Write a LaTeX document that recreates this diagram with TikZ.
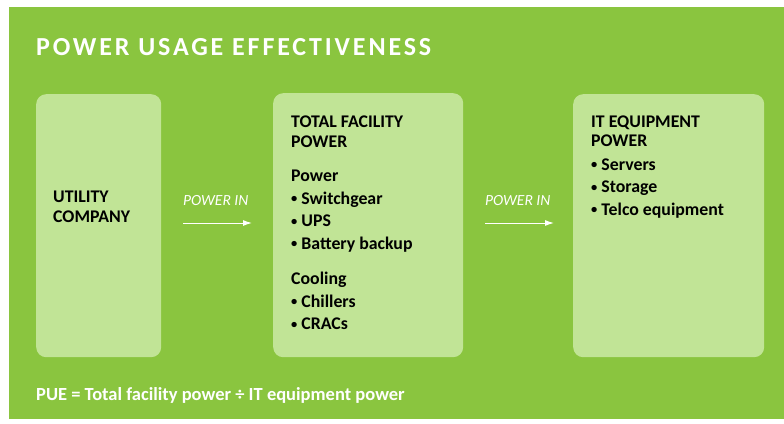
\documentclass[tikz,border=0pt]{standalone}
\usepackage{fontspec}
\setmainfont{Carlito}
\newfontfamily\titlefont[LetterSpace=11]{Carlito}
\usetikzlibrary{positioning,arrows.meta}
\definecolor{pueGreen}{RGB}{138,197,63}
\definecolor{pueLight}{RGB}{193,228,150}
\tikzset{
  panel/.style     = {fill=pueLight, rounded corners=10pt, inner sep=0pt,
                      anchor=north west},
  boxtext/.style   = {anchor=north west, align=left, inner sep=0pt, text=black,
                      font=\bfseries\fontsize{17.8}{22.5}\selectfont},
  flowlabel/.style = {anchor=base west, inner sep=0pt, text=white,
                      font=\itshape\fontsize{15.5}{18}\selectfont},
  flow/.style      = {draw=white, line width=1pt, -{Latex[length=9pt,width=6pt]}},
  heading/.style   = {anchor=base west, inner sep=0pt, text=white,
                      font=\titlefont\bfseries\fontsize{26}{30}\selectfont},
  formula/.style   = {anchor=base west, inner sep=0pt, text=white,
                      font=\bfseries\fontsize{18.5}{22}\selectfont}
}
\newcommand{\bul}{\raisebox{0.2ex}{\scalebox{0.7}{\textbullet}}\ }

\begin{document}
\begin{tikzpicture}[x=1pt,y=-1pt]
  \useasboundingbox (0,0) rectangle (784,423);
  \fill[pueGreen] (9,7) rectangle (784,419);

  \node[heading] (title) at (36,55) {POWER USAGE EFFECTIVENESS};

  % the three panels
  \node[panel, minimum width=125pt, minimum height=263pt] (utility)  at (36,94)  {};
  \node[panel, minimum width=190pt, minimum height=264pt] (facility) at (273,93) {};
  \node[panel, minimum width=191pt, minimum height=263pt] (itpower)  at (573,94) {};

  \node[boxtext] (utilitytext) at (53,190.5) {UTILITY\\[-2.5pt]COMPANY};
  \node[boxtext] (facilitytext) at (291,115.5)
    {TOTAL FACILITY\\[-2.5pt]POWER\\[12pt]
     Power\\\bul Switchgear\\\bul UPS\\\bul Battery backup\\[13pt]
     Cooling\\\bul Chillers\\\bul CRACs};
  \node[boxtext] (ittext) at (591,115.5)
    {IT EQUIPMENT\\[-3pt]POWER\\[1pt]
     \bul Servers\\\bul Storage\\\bul Telco equipment};

  % power flow
  \node[flowlabel] (powerinA) at (183,205) {POWER IN};
  \node[flowlabel] (powerinB) at (485,205) {POWER IN};
  \draw[flow, shorten <=22pt, shorten >=21pt] (utility.east |- 0,223) -- (facility.west |- 0,223);
  \draw[flow, shorten <=22pt, shorten >=19pt] (facility.east |- 0,223) -- (itpower.west |- 0,223);

  \node[formula] (pue) at (36,400) {PUE = Total facility power \char"00F7{} IT equipment power};
\end{tikzpicture}
\end{document}
